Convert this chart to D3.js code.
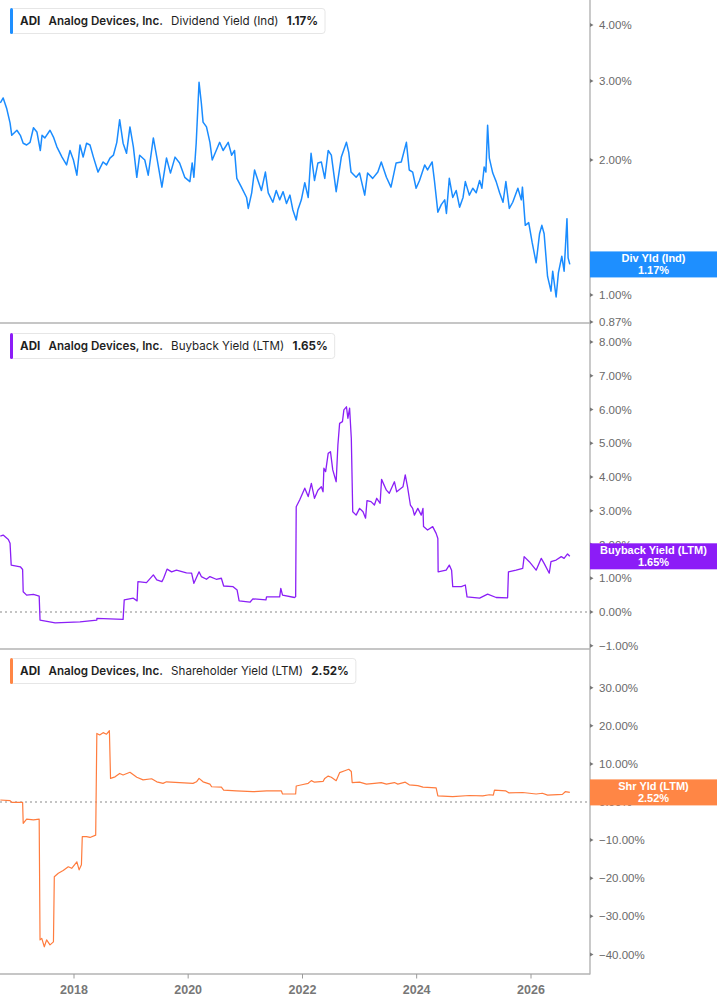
<!DOCTYPE html>
<html><head><meta charset="utf-8">
<script src="https://cdn.jsdelivr.net/npm/d3@7"></script>
<style>body{margin:0;background:#fff}svg{display:block}</style>
</head><body>
<svg id="c" width="717" height="1005"></svg>
<script>
const ticker = "ADI";
const company = "Analog Devices, Inc.";
const seriesNames = ["Dividend Yield (Ind)", "Buyback Yield (LTM)", "Shareholder Yield (LTM)"];
const badgeLabels = ["Div Yld (Ind)", "Buyback Yield (LTM)", "Shr Yld (LTM)"];
const lastValues = [1.17, 1.65, 2.52];
const divTicks = [0.87, 1, 2, 3, 4];
const bbTicks = [-1, 0, 1, 2, 3, 4, 5, 6, 7, 8];
const shTicks = [-40, -30, -20, -10, 0, 10, 20, 30];
const xTickYears = [2018, 2020, 2022, 2024, 2026];

// [decimal year, value %]
const divYield = [
[2016.71,2.68],[2016.76,2.75],[2016.82,2.61],[2016.88,2.42],[2016.91,2.27],[2017.00,2.33],[2017.06,2.27],[2017.11,2.18],[2017.17,2.16],[2017.23,2.19],[2017.29,2.36],[2017.35,2.31],[2017.41,2.10],[2017.44,2.27],[2017.49,2.24],[2017.58,2.33],[2017.64,2.25],[2017.70,2.14],[2017.79,2.03],[2017.87,1.95],[2017.93,2.10],[2017.99,2.00],[2018.05,1.85],[2018.105,2.16],[2018.16,2.03],[2018.22,2.18],[2018.28,2.16],[2018.34,2.03],[2018.42,1.88],[2018.51,1.98],[2018.57,1.95],[2018.63,2.02],[2018.69,2.05],[2018.75,2.19],[2018.80,2.46],[2018.86,2.18],[2018.92,2.07],[2018.98,2.37],[2019.04,2.14],[2019.10,1.83],[2019.15,2.05],[2019.24,2.00],[2019.30,1.85],[2019.39,2.24],[2019.45,2.03],[2019.54,1.74],[2019.62,2.02],[2019.69,1.87],[2019.77,2.03],[2019.85,1.97],[2019.94,1.83],[2020.03,1.79],[2020.07,1.97],[2020.10,1.83],[2020.14,2.18],[2020.19,2.98],[2020.23,2.68],[2020.26,2.43],[2020.32,2.37],[2020.38,2.19],[2020.42,2.00],[2020.49,2.10],[2020.55,2.19],[2020.61,2.10],[2020.70,2.19],[2020.76,2.05],[2020.81,2.10],[2020.85,1.82],[2020.93,1.74],[2021.02,1.65],[2021.05,1.56],[2021.11,1.69],[2021.16,1.90],[2021.22,1.80],[2021.28,1.71],[2021.35,1.88],[2021.40,1.69],[2021.48,1.61],[2021.54,1.71],[2021.60,1.63],[2021.66,1.70],[2021.72,1.60],[2021.78,1.67],[2021.83,1.55],[2021.89,1.47],[2021.92,1.55],[2021.98,1.63],[2022.04,1.78],[2022.10,1.65],[2022.15,2.07],[2022.21,1.80],[2022.27,1.97],[2022.33,1.98],[2022.39,1.82],[2022.45,2.10],[2022.505,2.05],[2022.59,1.70],[2022.68,2.03],[2022.77,2.19],[2022.81,2.08],[2022.85,1.88],[2022.94,1.83],[2023.00,1.87],[2023.09,1.67],[2023.14,1.87],[2023.23,1.82],[2023.32,1.88],[2023.38,1.98],[2023.47,1.83],[2023.55,1.74],[2023.64,1.97],[2023.73,1.98],[2023.82,2.19],[2023.87,1.90],[2023.93,1.88],[2023.99,1.73],[2024.05,1.80],[2024.14,1.95],[2024.19,1.90],[2024.27,1.98],[2024.31,1.80],[2024.37,1.53],[2024.43,1.59],[2024.49,1.63],[2024.52,1.52],[2024.57,1.82],[2024.63,1.65],[2024.69,1.71],[2024.75,1.57],[2024.81,1.65],[2024.85,1.79],[2024.92,1.67],[2024.98,1.73],[2025.04,1.69],[2025.10,1.80],[2025.14,1.73],[2025.18,1.93],[2025.21,1.88],[2025.24,2.39],[2025.27,2.02],[2025.33,1.87],[2025.39,1.79],[2025.45,1.69],[2025.51,1.61],[2025.56,1.79],[2025.62,1.56],[2025.68,1.61],[2025.77,1.73],[2025.83,1.63],[2025.85,1.74],[2025.90,1.43],[2025.96,1.45],[2026.02,1.31],[2026.09,1.18],[2026.15,1.37],[2026.19,1.43],[2026.23,1.37],[2026.29,1.10],[2026.35,1.02],[2026.38,1.13],[2026.44,0.99],[2026.48,1.12],[2026.54,1.22],[2026.58,1.13],[2026.63,1.48],[2026.65,1.21],[2026.68,1.17]
];

const buybackYield = [
[2016.71,2.25],[2016.76,2.28],[2016.85,2.15],[2016.88,2.04],[2016.90,1.39],[2017.06,1.34],[2017.10,1.26],[2017.11,0.60],[2017.17,0.50],[2017.29,0.52],[2017.39,0.47],[2017.405,-0.24],[2017.67,-0.32],[2018.105,-0.29],[2018.40,-0.24],[2018.401,-0.19],[2018.86,-0.22],[2018.88,0.36],[2019.04,0.41],[2019.105,0.33],[2019.12,0.90],[2019.27,0.87],[2019.39,1.10],[2019.45,0.95],[2019.54,0.90],[2019.57,1.00],[2019.63,1.27],[2019.71,1.19],[2019.795,1.24],[2019.97,1.16],[2020.06,1.15],[2020.10,0.85],[2020.19,1.19],[2020.23,1.05],[2020.32,0.97],[2020.38,1.05],[2020.49,0.97],[2020.58,1.00],[2020.62,0.77],[2020.785,0.75],[2020.855,0.65],[2020.89,0.33],[2021.08,0.29],[2021.13,0.39],[2021.36,0.36],[2021.37,0.45],[2021.60,0.45],[2021.62,0.70],[2021.65,0.50],[2021.86,0.43],[2021.88,0.45],[2021.89,3.12],[2021.95,3.32],[2022.04,3.67],[2022.10,3.42],[2022.155,3.81],[2022.21,3.37],[2022.27,3.61],[2022.33,3.71],[2022.36,3.56],[2022.375,4.26],[2022.405,4.16],[2022.45,4.70],[2022.49,4.75],[2022.53,4.21],[2022.59,3.86],[2022.62,4.95],[2022.65,5.59],[2022.70,5.64],[2022.725,5.99],[2022.77,6.08],[2022.795,5.74],[2022.825,6.04],[2022.855,5.15],[2022.88,2.97],[2022.94,2.87],[2023.00,3.07],[2023.06,2.97],[2023.105,2.78],[2023.13,3.30],[2023.20,3.27],[2023.26,3.17],[2023.30,3.37],[2023.36,3.22],[2023.385,3.93],[2023.47,3.61],[2023.52,3.52],[2023.61,3.86],[2023.65,3.56],[2023.76,3.71],[2023.80,4.06],[2023.84,3.71],[2023.89,3.17],[2023.93,3.07],[2023.96,2.87],[2024.02,3.07],[2024.08,2.87],[2024.11,3.07],[2024.12,2.53],[2024.19,2.43],[2024.28,2.53],[2024.34,2.33],[2024.37,2.18],[2024.375,1.19],[2024.515,1.24],[2024.57,1.39],[2024.61,1.24],[2024.63,0.75],[2024.78,0.75],[2024.85,0.80],[2024.88,0.45],[2025.10,0.41],[2025.24,0.53],[2025.39,0.43],[2025.59,0.42],[2025.605,1.19],[2025.74,1.24],[2025.855,1.29],[2025.88,1.64],[2025.97,1.49],[2026.09,1.24],[2026.18,1.59],[2026.23,1.44],[2026.32,1.15],[2026.35,1.49],[2026.44,1.54],[2026.53,1.64],[2026.58,1.59],[2026.64,1.72],[2026.68,1.65]
];

const shareholderYield = [
[2016.71,0.52],[2016.88,0.35],[2016.91,-0.1],[2017.10,-0.1],[2017.11,-5.6],[2017.17,-4.5],[2017.29,-4.7],[2017.39,-4.5],[2017.405,-36.2],[2017.435,-35.8],[2017.48,-38.0],[2017.52,-36.2],[2017.58,-37.5],[2017.64,-36.7],[2017.655,-19.6],[2017.725,-18.7],[2017.81,-18.0],[2017.90,-17.0],[2017.96,-17.4],[2018.05,-15.7],[2018.09,-17.8],[2018.13,-16.5],[2018.145,-9.1],[2018.22,-9.1],[2018.28,-9.3],[2018.38,-8.7],[2018.40,18.0],[2018.45,17.6],[2018.51,18.2],[2018.57,17.8],[2018.62,18.7],[2018.64,6.2],[2018.72,6.6],[2018.80,7.5],[2018.86,7.1],[2018.98,7.8],[2019.10,6.5],[2019.21,5.8],[2019.36,6.1],[2019.45,5.3],[2019.56,4.9],[2019.62,5.3],[2019.85,5.1],[2020.085,4.9],[2020.145,5.3],[2020.19,6.2],[2020.26,5.3],[2020.38,4.7],[2020.41,4.0],[2020.58,3.9],[2020.62,3.1],[2020.84,2.9],[2021.13,2.7],[2021.37,2.9],[2021.63,2.9],[2021.65,2.1],[2021.88,2.1],[2021.89,4.2],[2022.01,4.6],[2022.10,4.9],[2022.155,5.6],[2022.21,5.2],[2022.36,5.4],[2022.39,6.2],[2022.45,6.8],[2022.505,6.5],[2022.59,5.6],[2022.65,7.7],[2022.74,8.2],[2022.81,8.6],[2022.855,8.0],[2022.87,5.1],[2023.00,5.2],[2023.12,4.7],[2023.26,4.9],[2023.38,5.1],[2023.47,4.7],[2023.61,5.1],[2023.67,4.7],[2023.80,5.2],[2023.87,4.5],[2024.02,4.3],[2024.11,3.9],[2024.34,3.7],[2024.37,1.6],[2024.63,1.4],[2024.92,1.7],[2025.155,1.6],[2025.27,1.9],[2025.34,1.8],[2025.36,3.1],[2025.56,2.9],[2025.61,2.4],[2025.855,2.5],[2026.09,2.1],[2026.20,2.3],[2026.29,1.8],[2026.55,2.0],[2026.60,2.7],[2026.68,2.52]
];

const AX = 590, W = 717;
const svg = d3.select("#c");
const toDate = t => { const y = Math.floor(t); const s = new Date(y,0,1), e = new Date(y+1,0,1); return new Date(+s + (t-y)*(e-s)); };
const x = d3.scaleTime().domain([new Date(2018,0,1), new Date(2026,0,1)]).range([74, 531]);

const panels = [
  {data: divYield, y: d3.scaleLog().domain([1,4]).range([295,25]), top: 0, bottom: 323, color: "#1a8cff", badge: "#1e8fff", ticks: divTicks, zero: false, legendY: 8, sw: 1.5},
  {data: buybackYield, y: d3.scaleLinear().domain([0,8]).range([612,342]), top: 323, bottom: 649, color: "#8b1ff6", badge: "#8c1cf7", ticks: bbTicks, zero: true, legendY: 333, sw: 1.3},
  {data: shareholderYield, y: d3.scaleLinear().domain([0,30]).range([802,687.7]), top: 649, bottom: 974, color: "#ff7c3e", badge: "#ff8645", ticks: shTicks, zero: true, legendY: 658, sw: 1.2}
];

const defs = svg.append("defs");
panels.forEach((p, i) => {
  defs.append("clipPath").attr("id", "clip"+i).append("rect")
    .attr("x", 0).attr("y", p.top).attr("width", AX).attr("height", p.bottom - p.top);
});

// lines
panels.forEach((p, i) => {
  const line = d3.line().x(d => x(toDate(d[0]))).y(d => p.y(d[1]));
  if (p.zero) {
    svg.append("line").attr("x1", 0).attr("x2", AX).attr("y1", p.y(0)).attr("y2", p.y(0))
      .attr("stroke", "#8a8a8a").attr("stroke-width", 1.2).attr("stroke-dasharray", "2,3");
  }
  svg.append("path").datum(p.data).attr("clip-path", `url(#clip${i})`)
    .attr("d", line).attr("fill", "none").attr("stroke", p.color)
    .attr("stroke-width", p.sw).attr("stroke-linejoin", "round");
});

// separators
[323, 649, 974].forEach(yy => {
  svg.append("line").attr("x1", 0).attr("x2", AX).attr("y1", yy).attr("y2", yy)
    .attr("stroke", "#b3b3b3").attr("stroke-width", 1.3);
});
svg.append("line").attr("x1", AX).attr("x2", AX).attr("y1", 0).attr("y2", 974.6)
  .attr("stroke", "#b3b3b3").attr("stroke-width", 1.4);

// y ticks
const fmt = v => d3.format(".2f")(v) + "%";
panels.forEach(p => {
  p.ticks.forEach(t => {
    const yy = p.y(t);
    svg.append("path").attr("d", `M${AX},${yy-2}L${AX+3.5},${yy}L${AX},${yy+2}Z`).attr("fill", "#777");
    svg.append("text").attr("x", 599).attr("y", yy).attr("dy", "0.36em")
      .attr("font-family", "'Liberation Sans', Arial, sans-serif").attr("font-size", 11.5)
      .attr("fill", "#6a6a6a").text(fmt(t));
  });
});

// x axis
xTickYears.forEach(yr => {
  const xx = x(new Date(yr,0,1));
  svg.append("line").attr("x1", xx).attr("x2", xx).attr("y1", 974).attr("y2", 978.5)
    .attr("stroke", "#9a9a9a").attr("stroke-width", 1);
  svg.append("text").attr("x", xx).attr("y", 994).attr("text-anchor", "middle")
    .attr("font-family", "'Liberation Sans', Arial, sans-serif").attr("font-size", 12.5)
    .attr("font-weight", "bold").attr("fill", "#777").text(yr);
});

// badges (drawn over the axis labels, as in the original)
panels.forEach((p, i) => {
  const yy = p.y(lastValues[i]);
  svg.append("rect").attr("x", AX).attr("y", yy - 13).attr("width", W - AX).attr("height", 26).attr("fill", p.badge);
  const cx = 653.5;
  svg.append("text").attr("x", cx).attr("y", yy - 2.5).attr("text-anchor", "middle")
    .attr("font-family", "'Liberation Sans', Arial, sans-serif").attr("font-size", 11)
    .attr("font-weight", "bold").attr("fill", "#fff").text(badgeLabels[i]);
  svg.append("text").attr("x", cx).attr("y", yy + 9.5).attr("text-anchor", "middle")
    .attr("font-family", "'Liberation Sans', Arial, sans-serif").attr("font-size", 11)
    .attr("font-weight", "bold").attr("fill", "#fff").text(fmt(lastValues[i]));
});

// legends
panels.forEach((p, i) => {
  const g = svg.append("g");
  const box = g.append("rect").attr("x", 10.5).attr("y", p.legendY + 0.5).attr("height", 25)
    .attr("rx", 3).attr("fill", "#fff").attr("stroke", "#e6e6e6").attr("stroke-width", 1);
  g.append("rect").attr("x", 10).attr("y", p.legendY).attr("width", 3).attr("height", 26)
    .attr("rx", 1.5).attr("fill", p.badge);
  const parts = [
    [ticker, 700], [company, 600], [seriesNames[i], 400], [fmt(lastValues[i]), 700]
  ];
  let cx = 20;
  parts.forEach(([txt, w]) => {
    const t = g.append("text").attr("x", cx).attr("y", p.legendY + 17)
      .attr("font-family", "Inter, 'Noto Sans', sans-serif").attr("font-size", 11.6)
      .attr("font-weight", w).attr("fill", "#1f1f1f").text(txt);
    cx += t.node().getComputedTextLength() + 8.2;
  });
  box.attr("width", cx - 8.2 + 7 - 10.5);
});
</script>
</body></html>
